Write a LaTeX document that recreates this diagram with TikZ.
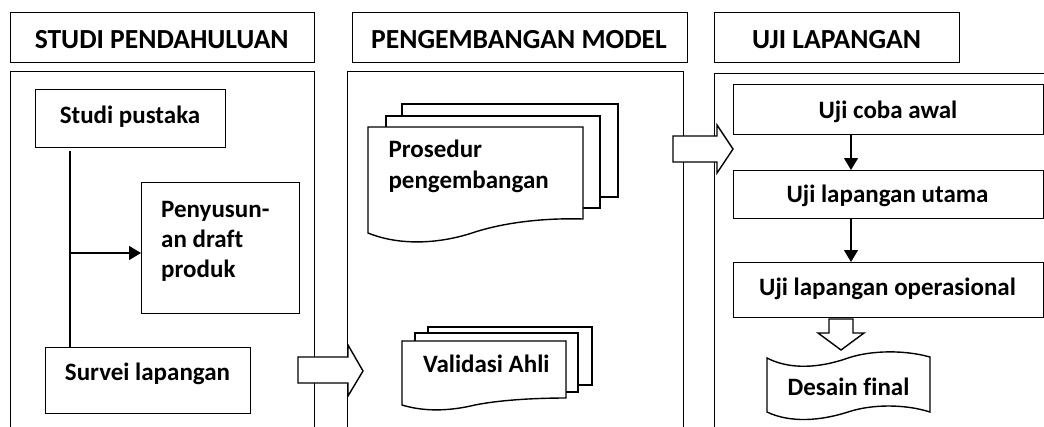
\documentclass[tikz,border=0pt]{standalone}
\usepackage{fontspec}
\setmainfont{Carlito}[Ligatures=NoCommon]
\usetikzlibrary{arrows.meta}
\begin{document}
\begin{tikzpicture}[x=1pt,y=-1pt,
  ln/.style={line width=1.4pt, draw=black},
  box/.style={ln, fill=white, inner sep=0pt, anchor=north west},
  hd/.style={font=\fontsize{27.6}{30}\selectfont\bfseries, inner sep=0pt, anchor=base},
  tx/.style={font=\fontsize{25}{30}\selectfont\bfseries, inner sep=0pt, anchor=base},
  txl/.style={tx, anchor=base west},
  arr/.style={line width=1.4pt, -{Triangle[width=14pt,length=12pt]}},
  blk/.style={ln, fill=white, line join=miter}
]
\useasboundingbox (0,0) rectangle (1044,426);
\clip (0,0) rectangle (1044,426);
\fill[white] (0,0) rectangle (1044,426);

% columns
\node[box, minimum width=304.5pt, minimum height=390pt] (c1) at (9.5,71) {};
\node[box, minimum width=336pt, minimum height=390pt] (c2) at (347,71) {};
\node[box, minimum width=360pt, minimum height=390pt] (c3) at (714,73) {};

% headers
\node[box, minimum width=304.5pt, minimum height=50pt] (h1) at (9.5,11.7) {};
\node[box, minimum width=335pt, minimum height=50pt] (h2) at (352,12) {};
\node[box, minimum width=245pt, minimum height=50pt] (h3) at (714,12) {};
\node[hd] (h1t) at (161.7,48.3) {STUDI PENDAHULUAN};
\node[hd] (h2t) at (519,48.3) {PENGEMBANGAN MODEL};
\node[hd] (h3t) at (836.5,48.3) {UJI LAPANGAN};

% column 1
\node[box, minimum width=190pt, minimum height=58pt] (sp) at (35,89) {};
\node[tx] (spt) at (130,123.3) {Studi pustaka};
\node[box, minimum width=158pt, minimum height=131pt] (ps) at (141,182) {};
\node[txl] (pst1) at (161,217) {Penyusun-};
\node[txl] (pst2) at (161,247) {an draft};
\node[txl] (pst3) at (161,277) {produk};
\node[box, minimum width=205pt, minimum height=66pt] (sv) at (45,347) {};
\node[tx] (svt) at (147.5,380.7) {Survei lapangan};

\coordinate (vx) at (70,0);
\coordinate (hj) at (70,253);
\draw[ln] ([yshift=-3pt]vx |- sp.south) -- (vx |- sv.north);
\draw[arr] (hj) -- (hj -| ps.west);

% column 2: Prosedur pengembangan (multi-document)
\draw[ln, fill=white] (402,104) rectangle (618,197);
\draw[ln, fill=white] (386,116) rectangle (600,208);
\draw[ln, fill=white] (368,127) -- (583,127) -- (583,219)
  .. controls (550,218) and (510,221) .. (475,232)
  .. controls (440,244) and (400,246) .. (368,233) -- cycle;
\node[txl] (prt1) at (388.3,157) {Prosedur};
\node[txl] (prt2) at (388.3,188) {pengembangan};

% Validasi Ahli (multi-document)
\draw[ln, fill=white] (428,327) rectangle (592,385);
\draw[ln, fill=white] (415,333) rectangle (578,392);
\draw[ln, fill=white] (402,341) -- (566,341) -- (566,398)
  .. controls (545,398) and (505,399) .. (475,405)
  .. controls (450,411) and (425,412) .. (402,405) -- cycle;
\node[tx] (vat) at (486.3,372.3) {Validasi Ahli};

% column 3
\node[box, minimum width=310pt, minimum height=50pt] (uca) at (733,83.5) {};
\node[tx] (ucat) at (888,118.3) {Uji coba awal};
\node[box, minimum width=310pt, minimum height=48pt] (ulu) at (733,170) {};
\node[tx] (ulut) at (887.5,202.3) {Uji lapangan utama};
\node[box, minimum width=310pt, minimum height=55pt] (ulo) at (733,262) {};
\node[tx] (ulot) at (887.5,295) {Uji lapangan operasional};

\coordinate (dx) at (851,0);
\draw[arr] (dx |- uca.south) -- (dx |- ulu.north);
\draw[arr] (dx |- ulu.south) -- (dx |- ulo.north);

% Desain final (punched tape)
\draw[ln, fill=white] (767,358)
  .. controls (790,370) and (820,368) .. (848,358)
  .. controls (872,350) and (905,350) .. (930,357)
  -- (930,412)
  .. controls (905,404) and (872,404) .. (848,412)
  .. controls (820,421) and (790,423) .. (767,412) -- cycle;
\node[tx] (dft) at (848.5,395) {Desain final};

% block arrows
\draw[blk] (298,357) -- (348,357) -- (348,345) -- (363,371) -- (348,396) -- (348,383) -- (298,383) -- cycle;
\draw[blk] (673,136) -- (717,136) -- (717,125) -- (733,149) -- (717,173) -- (717,162) -- (673,162) -- cycle;
\draw[blk] (829,319) -- (853,319) -- (853,333) -- (864,333) -- (841,350) -- (818,333) -- (829,333) -- cycle;
\end{tikzpicture}
\end{document}
